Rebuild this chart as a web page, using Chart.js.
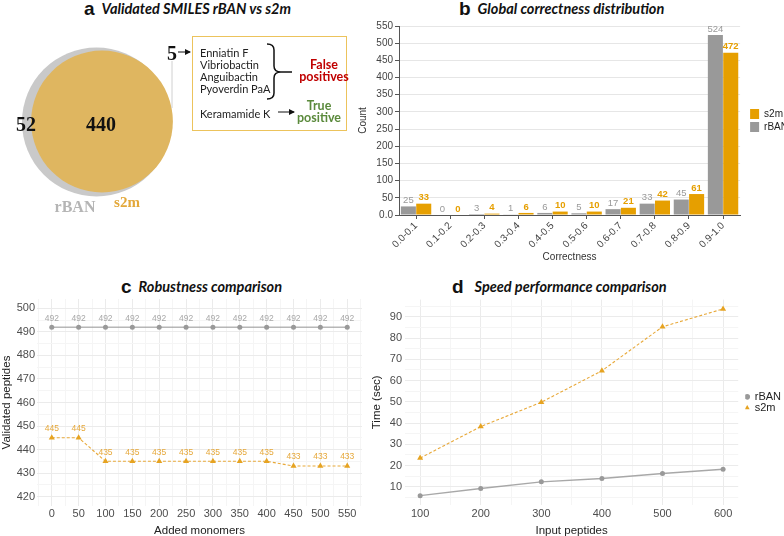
<!DOCTYPE html>
<html>
<head>
<meta charset="utf-8">
<script src="https://cdn.jsdelivr.net/npm/chart.js@4.4.1/dist/chart.umd.min.js"></script>
<style>
  html, body { margin: 0; padding: 0; background: #fff; }
  body { width: 784px; height: 536px; position: relative; overflow: hidden; font-family: 'Liberation Sans', Arial, sans-serif; }
  canvas { position: absolute; }
  .title { position: absolute; white-space: nowrap; height: 20px; line-height: 20px; font-family: Lato, sans-serif; font-weight: 700; font-style: italic; font-size: 14.5px; color: #111; }
  .title b { font-style: normal; font-family: 'Liberation Sans', Arial, sans-serif; font-size: 19px; margin-right: 7px; vertical-align: -1px; }
  .c { position: absolute; transform: translate(-50%, -50%); white-space: nowrap; }
  .num { font-family: 'Liberation Serif', 'Times New Roman', serif; font-weight: 700; font-size: 20px; color: #111; }
  .box { position: absolute; left: 192px; top: 36px; width: 153px; height: 93px; border: 1.5px solid #ecc35c; }
  .item { position: absolute; left: 200px; font-family: Lato, sans-serif; font-size: 11px; color: #222; white-space: nowrap; transform: translateY(-50%); }
  .tag { position: absolute; font-family: Lato, sans-serif; font-weight: 700; font-size: 12.5px; line-height: 12px; text-align: center; transform: translate(-50%, -50%); white-space: nowrap; }
</style>
</head>
<body>

<!-- panel titles -->
<div class="title" style="left:84px; top:-1px;"><b>a</b>Validated SMILES rBAN vs s2m</div>
<div class="title" style="left:459px; top:-1px;"><b>b</b>Global correctness distribution</div>
<div class="title" style="left:121px; top:277px;"><b>c</b>Robustness comparison</div>
<div class="title" style="left:452px; top:277px;"><b>d</b><span style="margin-left:4px">Speed performance comparison</span></div>

<!-- panel a: venn -->
<canvas id="vennChart" width="200" height="200" style="left:0; top:30px;"></canvas>
<div class="c num" style="left:26px; top:124px;">52</div>
<div class="c num" style="left:101px; top:124px;">440</div>
<div class="c num" style="left:172px; top:53px;">5</div>
<div class="c num" style="left:75px; top:207px; font-size:16px; color:#b5b5b5;">rBAN</div>
<div class="c num" style="left:127px; top:202px; font-size:15px; color:#e3a83a;">s2m</div>
<div class="box"></div>
<div class="item" style="top:52px;">Enniatin F</div>
<div class="item" style="top:64px;">Vibriobactin</div>
<div class="item" style="top:76px;">Anguibactin</div>
<div class="item" style="top:88px;">Pyoverdin PaA</div>
<div class="item" style="top:113px;">Keramamide K</div>
<div class="tag" style="left:324px; top:71px; color:#c00000;">False<br>positives</div>
<div class="tag" style="left:319px; top:112px; color:#5b8a3c;">True<br>positive</div>
<svg width="400" height="270" style="position:absolute; left:0; top:0;">
  <defs>
    <marker id="ah" markerWidth="6" markerHeight="6" refX="5" refY="3" orient="auto">
      <path d="M0,0 L6,3 L0,6 z" fill="#111"/>
    </marker>
  </defs>
  <line x1="172" y1="61" x2="172" y2="108" stroke="#d0d0d0" stroke-width="1"/>
  <line x1="178" y1="52" x2="190" y2="52" stroke="#111" stroke-width="1" marker-end="url(#ah)"/>
  <line x1="278" y1="112" x2="294" y2="112" stroke="#111" stroke-width="1" marker-end="url(#ah)"/>
  <path d="M267,44 Q274,44 274,50 L274,66 Q274,72 281,72 L292,72 M281,72 Q274,72 274,78 L274,93 Q274,99 267,99" fill="none" stroke="#111" stroke-width="1.5"/>
</svg>

<!-- panel b -->
<canvas id="distChart" width="443" height="250" style="left:355px; top:18px;"></canvas>
<!-- panel c -->
<canvas id="robustChart" width="385" height="246" style="left:0; top:290px;"></canvas>
<!-- panel d -->
<canvas id="speedChart" width="431" height="246" style="left:360px; top:290px;"></canvas>

<script>
// ---- data ----
// venn: validated SMILES
const vennRbanOnly = 52;
const vennShared = 440;
const vennS2mOnly = 5;
const vennCenters = [[96.5, 92], [102, 91.5]]; // rBAN, s2m (diagram layout)

// global correctness distribution
const correctnessBins = ['0.0-0.1', '0.1-0.2', '0.2-0.3', '0.3-0.4', '0.4-0.5', '0.5-0.6', '0.6-0.7', '0.7-0.8', '0.8-0.9', '0.9-1.0'];
const rbanCounts = [25, 0, 3, 1, 6, 5, 17, 33, 45, 524];
const s2mCounts = [33, 0, 4, 6, 10, 10, 21, 42, 61, 472];

// robustness
const addedMonomers = [0, 50, 100, 150, 200, 250, 300, 350, 400, 450, 500, 550];
const rbanValidated = [492, 492, 492, 492, 492, 492, 492, 492, 492, 492, 492, 492];
const s2mValidated = [445, 445, 435, 435, 435, 435, 435, 435, 435, 433, 433, 433];

// speed
const inputPeptides = [100, 200, 300, 400, 500, 600];
const rbanTime = [5.8, 9.2, 12.3, 13.9, 16.2, 18.2];
const s2mTime = [23.5, 38.3, 49.8, 64.6, 85.3, 93.7];
const speedXTicks = [100, 150, 200, 250, 300, 350, 400, 450, 500, 550, 600];

const GREY = '#999999';
const ORANGE = '#e69f00';

Chart.defaults.font.family = "'Liberation Sans', Arial, sans-serif";
Chart.defaults.animation = false;
Chart.defaults.plugins.tooltip.enabled = false;

// value labels above bars / points
const valueLabels = {
  id: 'valueLabels',
  afterDatasetsDraw(chart) {
    const ctx = chart.ctx;
    ctx.save();
    chart.data.datasets.forEach((ds, i) => {
      if (!ds.labelColor) return;
      const meta = chart.getDatasetMeta(i);
      ctx.fillStyle = ds.labelColor;
      ctx.font = ds.labelFont;
      ctx.textAlign = 'center';
      ctx.textBaseline = 'middle';
      meta.data.forEach((el, j) => {
        const v = ds.data[j];
        const val = (v !== null && typeof v === 'object') ? v.y : v;
        ctx.fillText(val, el.x, el.y - ds.labelGap);
      });
    });
    ctx.restore();
  }
};

const pairs = (xs, ys) => xs.map((x, i) => ({ x: x, y: ys[i] }));

// empty right axis, only used as a gap between plot and legend
const spacerAxis = w => ({
  position: 'right', display: true,
  grid: { display: false }, border: { display: false }, ticks: { display: false },
  afterFit: s => { s.width = w; }
});

// ---- panel a ----
const vennK = 3.36; // radius scale: r = k * sqrt(set size)
new Chart(document.getElementById('vennChart'), {
  type: 'bubble',
  data: {
    datasets: [
      {
        label: 's2m',
        data: [{ x: vennCenters[1][0], y: vennCenters[1][1], r: vennK * Math.sqrt(vennShared + vennS2mOnly) }],
        backgroundColor: '#dfb660', borderWidth: 0, clip: false
      },
      {
        label: 'rBAN',
        data: [{ x: vennCenters[0][0], y: vennCenters[0][1], r: vennK * Math.sqrt(vennShared + vennRbanOnly) }],
        backgroundColor: '#c9c9c9', borderWidth: 0, clip: false
      }
    ]
  },
  options: {
    responsive: false,
    layout: { padding: 0, autoPadding: false },
    plugins: { legend: { display: false } },
    scales: {
      x: { display: false, min: 0, max: 200 },
      y: { display: false, min: 0, max: 200, reverse: true }
    }
  }
});

// ---- panel b ----
new Chart(document.getElementById('distChart'), {
  type: 'bar',
  data: {
    labels: correctnessBins,
    datasets: [
      {
        label: 'rBAN', data: rbanCounts, backgroundColor: GREY,
        categoryPercentage: 0.9, barPercentage: 0.98,
        labelColor: '#999999', labelFont: "9.5px 'Liberation Sans', Arial", labelGap: 6
      },
      {
        label: 's2m', data: s2mCounts, backgroundColor: ORANGE,
        categoryPercentage: 0.9, barPercentage: 0.98,
        labelColor: '#e69f00', labelFont: "bold 9.5px 'Liberation Sans', Arial", labelGap: 6
      }
    ]
  },
  options: {
    responsive: false,
    layout: { padding: { top: 7, left: 0, right: 0, bottom: 0 } },
    plugins: {
      legend: {
        position: 'right',
        fullSize: false,
        reverse: true,
        labels: { boxWidth: 9, boxHeight: 10, padding: 3, color: '#222', font: { size: 10 } }
      }
    },
    scales: {
      x: {
        afterFit: s => { s.height = 53; },
        grid: { color: 'transparent', tickColor: '#555', tickLength: 4, offset: false },
        border: { color: '#555' },
        ticks: { minRotation: 45, maxRotation: 45, color: '#444', font: { size: 10 }, padding: 1 },
        title: { display: true, text: 'Correctness', color: '#333', font: { size: 10 }, padding: { top: 0, bottom: 5 } }
      },
      y: {
        min: 0, max: 550,
        afterFit: s => { s.width = 44; },
        grid: { color: '#e6e6e6', tickColor: '#555', tickLength: 4 },
        border: { color: '#555' },
        ticks: { stepSize: 50, color: '#444', font: { size: 10 }, padding: 2, callback: v => v === 0 ? '0.0' : v },
        title: { display: true, text: 'Count', color: '#333', font: { size: 10 }, padding: { top: 2, bottom: 0 } }
      },
      gap: spacerAxis(7)
    }
  },
  plugins: [valueLabels]
});

// ---- panel c ----
new Chart(document.getElementById('robustChart'), {
  type: 'line',
  data: {
    datasets: [
      {
        label: 'rBAN', data: pairs(addedMonomers, rbanValidated),
        borderColor: 'rgba(153,153,153,0.7)', borderWidth: 1.6,
        pointStyle: 'circle', pointRadius: 2.5, pointBackgroundColor: GREY, pointBorderWidth: 0,
        labelColor: '#a8a8a8', labelFont: "8.5px 'Liberation Sans', Arial", labelGap: 9
      },
      {
        label: 's2m', data: pairs(addedMonomers, s2mValidated),
        borderColor: '#e8a93a', borderWidth: 1.1, borderDash: [3, 2],
        pointStyle: 'triangle', pointRadius: 3.5, pointBackgroundColor: '#e6a321', pointBorderWidth: 0,
        labelColor: '#e6a83a', labelFont: "8.5px 'Liberation Sans', Arial", labelGap: 9
      }
    ]
  },
  options: {
    responsive: false,
    layout: { padding: { top: 9, right: 23, left: 0, bottom: 0 } },
    plugins: { legend: { display: false } },
    scales: {
      x: {
        type: 'linear', min: -27.5, max: 577.5,
        afterFit: s => { s.height = 30; },
        grid: { drawTicks: false, color: c => c.tick && c.tick.value % 50 === 0 ? '#ebebeb' : '#f5f5f5' },
        border: { display: false },
        ticks: { stepSize: 25, includeBounds: false, color: '#4d4d4d', font: { size: 11 }, padding: 1, autoSkip: false, maxRotation: 0,
                 callback: v => v % 50 === 0 ? v : '' },
        title: { display: true, text: 'Added monomers', color: '#222', font: { size: 11.5 }, padding: { top: 0, bottom: -2 } }
      },
      y: {
        min: 416, max: 504,
        afterFit: s => { s.width = 37; },
        grid: { drawTicks: false, color: c => c.tick && c.tick.value % 10 === 0 ? '#ebebeb' : '#f5f5f5' },
        border: { display: false },
        ticks: { stepSize: 5, includeBounds: false, color: '#4d4d4d', font: { size: 11 }, padding: 2, autoSkip: false,
                 callback: v => v % 10 === 0 ? v : '' },
        title: { display: true, text: 'Validated peptides', color: '#222', font: { size: 11.5 }, padding: { top: 0, bottom: 0 } }
      }
    }
  },
  plugins: [valueLabels]
});

// ---- panel d ----
new Chart(document.getElementById('speedChart'), {
  type: 'line',
  data: {
    datasets: [
      {
        label: 'rBAN', data: pairs(inputPeptides, rbanTime),
        borderColor: 'rgba(153,153,153,0.85)', borderWidth: 1.4,
        pointStyle: 'circle', pointRadius: 2.5, pointBackgroundColor: GREY, pointBorderWidth: 0
      },
      {
        label: 's2m', data: pairs(inputPeptides, s2mTime),
        borderColor: '#e8a93a', borderWidth: 1.1, borderDash: [3, 2],
        pointStyle: 'triangle', pointRadius: 3.5, pointBackgroundColor: '#e6a321', pointBorderWidth: 0
      }
    ]
  },
  options: {
    responsive: false,
    layout: { padding: { top: 9, right: 0, left: 10, bottom: 0 } },
    plugins: {
      legend: {
        position: 'right',
        fullSize: false,
        labels: { usePointStyle: true, boxWidth: 4, boxHeight: 4, padding: 0, color: '#222', font: { size: 11, lineHeight: 0.9 } }
      }
    },
    scales: {
      x: {
        type: 'linear', min: 75, max: 625,
        afterFit: s => { s.height = 31; },
        afterBuildTicks: s => { s.ticks = speedXTicks.map(v => ({ value: v })); },
        grid: { drawTicks: false, color: c => c.tick && c.tick.value % 100 === 0 ? '#ebebeb' : '#f5f5f5' },
        border: { display: false },
        ticks: { color: '#4d4d4d', font: { size: 11 }, padding: 2, autoSkip: false, maxRotation: 0,
                 callback: v => v % 100 === 0 ? v : '' },
        title: { display: true, text: 'Input peptides', color: '#222', font: { size: 11.5 }, padding: { top: 0, bottom: -2 } }
      },
      y: {
        min: 1.4, max: 98.1,
        afterFit: s => { s.width = 35; },
        grid: { drawTicks: false, color: c => c.tick && c.tick.value % 10 === 0 ? '#ebebeb' : '#f5f5f5' },
        border: { display: false },
        ticks: { stepSize: 5, includeBounds: false, color: '#4d4d4d', font: { size: 11 }, padding: 3, autoSkip: false,
                 callback: v => v % 10 === 0 ? v : '' },
        title: { display: true, text: 'Time (sec)', color: '#222', font: { size: 11.5 }, padding: { top: 0, bottom: 0 } }
      },
      gap: spacerAxis(7)
    }
  }
});
</script>
</body>
</html>
